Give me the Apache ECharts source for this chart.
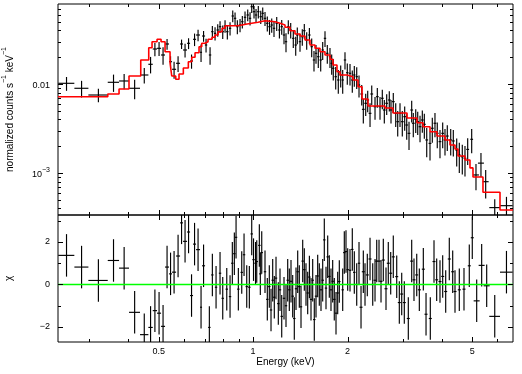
<!DOCTYPE html>
<html><head><meta charset="utf-8">
<script src="https://cdn.jsdelivr.net/npm/echarts@6/dist/echarts.min.js"></script>
<style>html,body{margin:0;padding:0;background:#fff}#c{width:522px;height:374px}</style>
</head><body><div id="c"></div><script>
// ---- spectrum (top panel) ----
const energy = [
0.254,0.2837,0.321,0.3587,0.3878,0.4189,0.4496,0.4709,0.4861,0.5012,
0.5161,0.5315,0.5453,0.5596,0.5763,0.5912,0.6066,0.6224,0.6362,0.6504,
0.6674,0.6822,0.6949,
0.7077,0.7289,0.7413,0.7561,0.7712,0.7843,0.8000,0.8137,0.8275,0.8441,
0.8610,0.8757,0.8906,0.9084,0.9238,0.9423,0.9611,0.9775,0.9898,1.0066,
1.0216,1.0389,1.0575,1.0730,1.0912,1.1098,1.1279,1.1463,1.1657,1.1892,
1.2129,1.2337,1.2546,1.2731,1.2948,1.3178,1.3431,1.3672,1.3832,1.4110,
1.4350,1.4563,1.4821,1.5117,1.5375,1.5636,1.5869,1.6138,1.6426,1.6668,
1.6953,1.7241,1.7585,1.7807,1.8016,1.8340,1.8692,1.9025,1.9306,1.9634,
1.9968,2.0370,2.0716,2.1024,2.1399,2.1763,
2.2201,2.2462,2.2861,2.3198,2.3598,2.3895,2.4478,2.4894,2.5392,2.5824,
2.6207,2.6671,2.7184,2.7526,2.7993,2.8497,2.8917,2.9408,2.9908,3.0437,
3.0894,3.1419,3.2045,3.2421,3.3009,3.3495,3.4065,3.4644,3.5158,3.5785,
3.6657,3.7280,3.8019,3.8665,3.9446,4.0235,4.0921,4.1617,4.2677,4.3496,
4.4597,4.5456,4.6465,4.7394,4.8342,4.9784,
5.1381,5.3294,5.5175,5.897,6.427];
const energyErr = [
0.015,0.0146,0.0228,0.0149,0.0142,0.0169,0.0138,0.0076,0.0077,0.0074,
0.0076,0.0078,0.0060,0.0083,0.0085,0.0065,0.0089,0.0069,0.0070,0.0072,
0.0098,0.0050,0.0077,
0.0062,0.0064,0.0065,0.0067,0.0068,0.0069,0.0070,0.0072,0.0073,0.0074,
0.0076,0.0077,0.0078,0.0080,0.0081,0.0083,0.0085,0.0086,0.0087,0.0089,
0.0090,0.0091,0.0093,0.0094,0.0096,0.0098,0.0099,0.0101,0.0103,0.0105,
0.0107,0.0109,0.0110,0.0112,0.0114,0.0116,0.0118,0.0120,0.0122,0.0124,
0.0126,0.0128,0.0130,0.0133,0.0135,0.0138,0.0140,0.0142,0.0145,0.0147,
0.0149,0.0152,0.0155,0.0157,0.0159,0.0161,0.0164,0.0167,0.0170,0.0173,
0.0176,0.0179,0.0182,0.0185,0.0188,0.0192,
0.0229,0.0231,0.0235,0.0239,0.0243,0.0246,0.0252,0.0256,0.0262,0.0266,
0.0270,0.0275,0.0280,0.0284,0.0288,0.0294,0.0298,0.0303,0.0308,0.0313,
0.0318,0.0324,0.0330,0.0334,0.0340,0.0345,0.0351,0.0357,0.0362,0.0369,
0.0378,0.0384,0.0392,0.0398,0.0406,0.0414,0.0421,0.0429,0.0440,0.0448,
0.0459,0.0468,0.0479,0.0488,0.0498,0.0513,
0.113,0.117,0.121,0.232,0.298];
const rate = [
0.01018,0.00895,0.00752,0.01045,0.01081,0.00895,0.01262,0.01665,0.02473,0.02518,
0.02118,0.02815,0.01781,0.01463,0.01708,0.02815,0.02410,0.02866,0.01814,0.03177,
0.03552,0.02271,0.03461,
0.02743,0.02118,0.03871,0.03712,0.04045,0.04405,0.03871,0.04485,0.03871,0.04227,
0.05810,0.05473,0.04405,0.04602,0.05013,0.05618,0.05962,0.05473,0.07389,0.06494,
0.05962,0.06494,0.05706,0.06230,0.05473,0.04809,0.04405,0.04602,0.04227,0.04809,
0.04045,0.04405,0.03552,0.02987,0.04405,0.04045,0.03261,0.02743,0.03552,0.02987,
0.03400,0.03973,0.03121,0.03552,0.02625,0.01861,0.02213,0.02027,0.01861,0.02410,
0.03261,0.02213,0.02027,0.01708,0.01502,0.01208,0.01109,0.01262,0.01109,0.01861,
0.01340,0.01319,0.01109,0.01262,0.01208,0.00975,
0.00772,0.00519,0.00607,0.00661,0.00468,0.00772,0.00556,0.00720,0.00556,0.00691,
0.00510,0.00607,0.00661,0.00510,0.00633,0.00468,0.00377,0.00468,0.00377,0.00429,
0.00346,0.00279,0.00510,0.00362,0.00401,0.00377,0.00331,0.00394,0.00352,0.00235,
0.00215,0.00318,0.00362,0.00279,0.00225,0.00279,0.00235,0.00260,0.00235,0.00229,
0.00181,0.00159,0.00152,0.00146,0.00184,0.00239,
0.000950,0.00129,0.000798,0.000408,0.000429];
const rateErr = [
0.0018,0.0019,0.0013,0.0023,0.0021,0.0022,0.0025,0.0035,0.0042,0.0045,
0.0047,0.0039,0.0027,0.0032,0.0034,0.0034,0.0043,0.0040,0.0033,0.0051,
0.0053,0.0050,0.0048,
0.0049,0.0047,0.0062,0.0063,0.0065,0.0066,0.0066,0.0072,0.0070,0.0072,
0.0087,0.0088,0.0079,0.0078,0.0080,0.0090,0.0089,0.0093,0.0111,0.0104,
0.0101,0.0104,0.0097,0.0100,0.0099,0.0091,0.0084,0.0083,0.0085,0.0087,
0.0081,0.0084,0.0075,0.0072,0.0079,0.0081,0.0072,0.0066,0.0075,0.0069,
0.0071,0.0075,0.0069,0.0071,0.0063,0.0048,0.0053,0.0051,0.0048,0.0055,
0.0065,0.0053,0.0051,0.0044,0.0041,0.0034,0.0033,0.0035,0.0033,0.0041,
0.0036,0.0036,0.0031,0.0033,0.0033,0.0027,
0.0020,0.0016,0.0017,0.0018,0.0014,0.0019,0.0016,0.0018,0.0016,0.0017,
0.0015,0.0016,0.0017,0.0015,0.0016,0.0014,0.0012,0.0014,0.0012,0.0013,
0.0011,0.00098,0.0014,0.0011,0.0012,0.0011,0.0011,0.0011,0.0011,0.00085,
0.00077,0.00099,0.0011,0.00089,0.00079,0.00089,0.00078,0.00083,0.00078,0.00076,
0.00063,0.00059,0.00056,0.00055,0.00061,0.00072,
0.00031,0.00039,0.00028,0.00010,0.00011];
// ---- folded model (step histogram) ----
const modelEdges = [0.2386,0.3439,0.3736,0.4019,0.4381,0.4646,0.4760,0.4939,0.5086,0.5237,
0.5433,0.5501,0.5664,0.5803,0.5990,0.6214,0.6371,0.6527,0.6722,0.6856,
0.7024,0.7181,0.7396,0.7561,0.7730,0.7960,0.8137,0.8950,0.9561,1.0366,
1.0912,1.1744,1.2183,1.2638,1.3110,1.3601,1.4110,1.4637,1.5184,1.5752,
1.6341,1.6953,1.7585,1.7978,1.8513,1.8927,1.9928,2.0826,2.1603,2.2248,
2.3248,2.6339,2.7930,3.0962,3.3319,3.4821,3.6657,3.8587,4.0921,4.2456,
4.4042,4.5023,4.7394,4.9165,5.0262,5.4087,6.1290,6.7430];
const modelValues = [0.00720,0.00772,0.00879,0.01230,0.01861,0.02558,0.02987,0.03178,0.02987,0.02307,
0.01722,0.01230,0.01129,0.01295,0.01513,0.01781,0.01995,0.02247,0.02625,0.02866,
0.02987,0.03178,0.03347,0.03552,0.03869,0.04225,0.04520,0.04722,0.04935,0.05143,
0.05012,0.04808,0.04602,0.04337,0.03971,0.03646,0.03461,0.03121,0.02743,0.02518,
0.02307,0.02118,0.01895,0.01635,0.01375,0.01262,0.01208,0.01109,0.00932,0.00678,
0.00566,0.00537,0.00472,0.00415,0.00367,0.00331,0.00291,0.00260,0.00235,0.00206,
0.00186,0.00155,0.00140,0.00114,0.000902,0.000607,0.000384];
// ---- residuals (bottom panel) ----
const residEnergy = [
0.254,0.2837,0.321,0.3587,0.3878,0.4189,0.4496,0.4709,0.4861,0.5012,
0.5161,0.5315,0.5453,0.5596,0.5763,0.5912,0.6066,0.6224,0.6362,0.6504,
0.6674,0.6822,0.6949,
0.7251,0.7413,0.7617,0.7843,0.8000,0.8240,0.8441,0.8584,0.8712,0.8822,
0.8972,0.9198,0.9355,0.9542,0.9726,0.9898,1.0029,1.0179,1.0269,1.0467,
1.0543,1.0653,1.0912,1.1098,1.1262,1.1404,1.1546,1.1683,1.1831,1.2032,
1.2183,1.2337,1.2546,1.2731,1.2891,1.3044,1.3207,1.3372,1.3531,1.3702,
1.3873,1.4038,1.4214,1.4392,1.4563,1.4745,1.4930,1.5117,1.5296,1.5488,
1.5671,1.5869,1.6067,1.6258,1.6462,1.6668,1.6866,1.7078,1.7292,1.7497,
1.7715,1.7937,1.8149,1.8380,1.8610,1.8831,1.9306,1.9535,1.9779,2.0027,
2.0370,2.0716,2.1024,2.1399,2.1763,
2.2087,2.2462,2.2743,2.3130,2.3598,2.4070,2.4478,2.4786,2.5207,2.5580,
2.6014,2.6534,2.6984,2.7466,2.7993,2.8707,2.9260,2.9779,3.0352,3.1257,
3.2045,3.2589,3.3252,3.3892,3.4900,3.5602,3.6738,3.7749,3.8498,3.9446,
4.0235,4.1134,4.2235,4.3305,4.4042,4.5456,4.7049,4.8915,5.0001,
5.1647,5.3570,5.5582,5.897,6.427];
const residEnergyErr = [
0.015,0.0146,0.0228,0.0149,0.0142,0.0169,0.0138,0.0076,0.0077,0.0074,
0.0076,0.0078,0.0060,0.0083,0.0085,0.0065,0.0089,0.0069,0.0070,0.0072,
0.0098,0.0050,0.0077,
0.0064,0.0065,0.0067,0.0069,0.0070,0.0073,0.0074,0.0076,0.0077,0.0078,
0.0079,0.0081,0.0082,0.0084,0.0086,0.0087,0.0088,0.0090,0.0090,0.0092,
0.0093,0.0094,0.0096,0.0098,0.0099,0.0100,0.0102,0.0103,0.0104,0.0106,
0.0107,0.0109,0.0110,0.0112,0.0113,0.0115,0.0116,0.0118,0.0119,0.0121,
0.0122,0.0124,0.0125,0.0127,0.0128,0.0130,0.0131,0.0133,0.0135,0.0136,
0.0138,0.0140,0.0141,0.0143,0.0145,0.0147,0.0148,0.0150,0.0152,0.0154,
0.0156,0.0158,0.0160,0.0162,0.0164,0.0166,0.0170,0.0172,0.0174,0.0176,
0.0179,0.0182,0.0185,0.0188,0.0192,
0.0243,0.0247,0.0250,0.0254,0.0260,0.0265,0.0269,0.0273,0.0277,0.0281,
0.0286,0.0292,0.0297,0.0302,0.0308,0.0316,0.0322,0.0328,0.0334,0.0344,
0.0352,0.0358,0.0366,0.0373,0.0384,0.0392,0.0404,0.0415,0.0423,0.0434,
0.0443,0.0452,0.0465,0.0476,0.0484,0.0500,0.0518,0.0538,0.0550,
0.1136,0.1179,0.1223,0.232,0.298];
const residual = [
1.37,0.82,0.19,1.13,0.77,-1.31,-2.36,-2.02,-1.23,-1.35,
-1.97,0.82,0.5,0.58,1.34,2.9,2.03,2.47,-0.52,1.9,
1.64,-1.07,0.88,
-2.02,0.45,-0.13,0.53,-0.65,-0.22,-0.57,1.0,1.45,2.22,
-0.22,0.57,1.4,-0.1,-0.13,2.38,1.17,1.0,1.08,1.84,
0.5,1.5,0.6,-0.7,-0.1,-1.2,0.2,-0.6,0.3,-0.9,
-0.25,-1.5,-0.65,-1.0,0.2,-0.25,0.15,-0.55,-1.6,-0.2,
0.6,-0.1,-1.05,1.1,0.7,0,-0.4,0.35,-0.7,0.2,
-1.65,-0.55,0.4,0,-0.25,0.2,2.1,-0.17,1.3,0.38,
-0.25,0.15,-0.7,-1.35,-0.4,0.14,-0.25,1.5,1.55,0.7,
0.67,1.65,0.57,0,1.0,
-1.07,0.6,0,0.45,1.2,0,0.2,1.1,1.1,0.15,
1.15,-0.2,1.0,0.53,1.3,0.37,-0.85,-0.45,-0.85,-1.6,
1.1,0.22,0.45,-0.25,0.72,-1.4,-1.6,1.08,0.22,0.14,
0.38,-0.33,1.2,0.6,-0.33,-0.25,-0.22,0.88,2.2,
-0.77,0.9,-0.06,-1.5,0.58];
const residualErr = 1;
// ---- axes ----
const xRange = [0.2386, 6.743];
const yTopRange = [0.000337, 0.07925];
const yResRange = [-2.706, 3.27];
const xMajorTicks = [0.5, 1, 2, 5];
const xMinorTicks = [0.3, 0.4, 0.6, 0.7, 0.8, 0.9, 3, 4, 6];
const yTopMajorTicks = [0.001, 0.01];
const yTopMinorTicks = [0.0004,0.0005,0.0006,0.0007,0.0008,0.0009,0.002,0.003,0.004,0.005,0.006,0.007,0.008,0.009,0.02,0.03,0.04,0.05,0.06,0.07];
const yResMajorTicks = [-2, 0, 2];
const yResMinorTicks = [-1, 1, 3];

const FONT = '"Liberation Sans", Arial, sans-serif';
const chart = echarts.init(document.getElementById('c'), null, {renderer: 'canvas'});

const topData = energy.map((e, i) => [e, energyErr[i], rate[i], rateErr[i]]);
const resData = residEnergy.map((e, i) => [e, residEnergyErr[i], residual[i], residualErr]);
const modelLine = [];
modelValues.forEach((v, i) => { modelLine.push([modelEdges[i], v]); modelLine.push([modelEdges[i + 1], v]); });

function makeErrRender(logY) {
  return function (params, api) {
    const x = api.value(0), xe = api.value(1), y = api.value(2), ye = api.value(3);
    const l = api.coord([x - xe, y]), r = api.coord([x + xe, y]);
    let lo = y - ye;
    if (logY && lo <= 0) lo = y * 1e-4;
    const t = api.coord([x, y + ye]), b = api.coord([x, lo]);
    const st = {stroke: '#000', lineWidth: 1.15};
    return {type: 'group', children: [
      {type: 'line', shape: {x1: l[0], y1: l[1], x2: r[0], y2: r[1]}, style: st},
      {type: 'line', shape: {x1: t[0], y1: t[1], x2: b[0], y2: b[1]}, style: st}
    ]};
  };
}
function xTicks(len) {
  return function (params, api) {
    const cs = params.coordSys;
    const p = api.coord([api.value(0), api.value(1)]);
    const x = Math.round(p[0]) + 0.5;
    const st = {stroke: '#000', lineWidth: 1};
    return {type: 'group', children: [
      {type: 'line', shape: {x1: x, y1: cs.y, x2: x, y2: cs.y + len}, style: st},
      {type: 'line', shape: {x1: x, y1: cs.y + cs.height, x2: x, y2: cs.y + cs.height - len}, style: st}
    ]};
  };
}
function yTicks(len) {
  return function (params, api) {
    const cs = params.coordSys;
    const p = api.coord([api.value(0), api.value(1)]);
    const y = Math.round(p[1]) + 0.5;
    const st = {stroke: '#000', lineWidth: 1};
    return {type: 'group', children: [
      {type: 'line', shape: {x1: cs.x, y1: y, x2: cs.x + len, y2: y}, style: st},
      {type: 'line', shape: {x1: cs.x + cs.width, y1: y, x2: cs.x + cs.width - len, y2: y}, style: st}
    ]};
  };
}
function tickSeries(name, xi, yi, data, render) {
  return {name: name, type: 'custom', xAxisIndex: xi, yAxisIndex: yi, data: data,
    renderItem: render, encode: {x: 0, y: 1}, silent: true, clip: false, z: 5};
}
const supRich = {
  n: {fontSize: 10, fontFamily: FONT, color: '#000', verticalAlign: 'bottom', lineHeight: 14},
  sup: {fontSize: 7, fontFamily: FONT, color: '#000', verticalAlign: 'top', lineHeight: 14}
};
const hidden = {axisLine: {show: false}, axisTick: {show: false}, splitLine: {show: false}, minorTick: {show: false}};

const option = {
  animation: false,
  backgroundColor: '#fff',
  grid: [
    {left: 58, right: 9, top: 4, height: 211, containLabel: false, outerBoundsMode: 'none',
      show: true, borderColor: '#000', borderWidth: 1, backgroundColor: 'transparent'},
    {left: 58, right: 9, top: 215, height: 127, containLabel: false, outerBoundsMode: 'none',
      show: true, borderColor: '#000', borderWidth: 1, backgroundColor: 'transparent'}
  ],
  xAxis: [
    Object.assign({type: 'log', logBase: 10, gridIndex: 0, min: xRange[0], max: xRange[1], axisLabel: {show: false}}, hidden),
    Object.assign({type: 'log', logBase: 10, gridIndex: 1, min: xRange[0], max: xRange[1],
      name: 'Energy (keV)', nameLocation: 'middle', nameGap: 15,
      nameTextStyle: {fontSize: 10, fontFamily: FONT, color: '#000'},
      axisLabel: {show: true, customValues: xMajorTicks, margin: 5, fontSize: 9, fontFamily: FONT, color: '#000',
        formatter: v => String(+v.toPrecision(3))}}, hidden)
  ],
  yAxis: [
    Object.assign({type: 'log', logBase: 10, gridIndex: 0, min: yTopRange[0], max: yTopRange[1],
      name: '{n|normalized counts s}{sup|−1}{n| keV}{sup|−1}', nameLocation: 'middle', nameGap: 43, nameRotate: 90,
      nameTextStyle: {rich: supRich},
      axisLabel: {show: true, customValues: yTopMajorTicks, margin: 8, fontSize: 9, fontFamily: FONT, color: '#000',
        formatter: v => (Math.abs(v - 0.01) < 1e-9 ? '{a|0.01}' : '{a|10}{s|−3}'),
        rich: {a: {fontSize: 9, fontFamily: FONT, color: '#000', verticalAlign: 'bottom', lineHeight: 12},
               s: {fontSize: 7, fontFamily: FONT, color: '#000', verticalAlign: 'top', lineHeight: 12}}}}, hidden),
    Object.assign({type: 'value', gridIndex: 1, min: yResRange[0], max: yResRange[1],
      name: 'χ', nameLocation: 'middle', nameGap: 44, nameRotate: 90,
      nameTextStyle: {fontSize: 10, fontFamily: FONT, color: '#000'},
      axisLabel: {show: true, customValues: yResMajorTicks, margin: 8, fontSize: 9, fontFamily: FONT, color: '#000',
        formatter: v => (v < 0 ? '−' + Math.abs(v) : String(v))}}, hidden)
  ],
  series: [
    {name: 'data', type: 'custom', xAxisIndex: 0, yAxisIndex: 0, data: topData, renderItem: makeErrRender(true),
      encode: {x: 0, y: 2}, clip: true, silent: true, z: 2},
    {name: 'model', type: 'line', xAxisIndex: 0, yAxisIndex: 0, data: modelLine, showSymbol: false, symbol: 'none',
      lineStyle: {color: '#ff0000', width: 1.6}, clip: true, silent: true, z: 3},
    {name: 'residuals', type: 'custom', xAxisIndex: 1, yAxisIndex: 1, data: resData, renderItem: makeErrRender(false),
      encode: {x: 0, y: 2}, clip: true, silent: true, z: 2},
    {name: 'zero', type: 'line', xAxisIndex: 1, yAxisIndex: 1, data: [[xRange[0], 0], [xRange[1], 0]], symbol: 'none',
      lineStyle: {color: '#00ff00', width: 1.6}, silent: true, z: 3},
    tickSeries('xt0M', 0, 0, xMajorTicks.map(v => [v, yTopRange[0]]), xTicks(5)),
    tickSeries('xt0m', 0, 0, xMinorTicks.map(v => [v, yTopRange[0]]), xTicks(3)),
    tickSeries('xt1M', 1, 1, xMajorTicks.map(v => [v, 0]), xTicks(5)),
    tickSeries('xt1m', 1, 1, xMinorTicks.map(v => [v, 0]), xTicks(3)),
    tickSeries('yt0M', 0, 0, yTopMajorTicks.map(v => [xRange[0], v]), yTicks(5)),
    tickSeries('yt0m', 0, 0, yTopMinorTicks.map(v => [xRange[0], v]), yTicks(3)),
    tickSeries('yt1M', 1, 1, yResMajorTicks.map(v => [xRange[0], v]), yTicks(5)),
    tickSeries('yt1m', 1, 1, yResMinorTicks.map(v => [xRange[0], v]), yTicks(3))
  ]
};
chart.setOption(option);
</script></body></html>
